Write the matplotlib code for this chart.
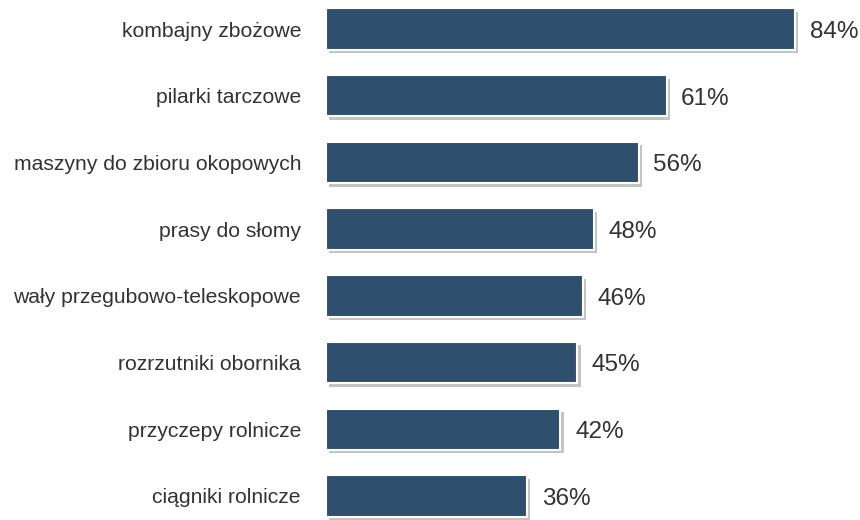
import matplotlib.pyplot as plt
import matplotlib.patheffects as pe

categories = ["kombajny zbożowe", "pilarki tarczowe", "maszyny do zbioru okopowych",
              "prasy do słomy", "wały przegubowo-teleskopowe", "rozrzutniki obornika",
              "przyczepy rolnicze", "ciągniki rolnicze"]
values = [84, 61, 56, 48, 46, 45, 42, 36]

plt.rcParams['font.family'] = ['Liberation Sans', 'DejaVu Sans']

fig = plt.figure(figsize=(8.6, 5.2), dpi=100)
ax = fig.add_axes([326 / 860, 0, 534 / 860, 1])

pos = list(range(len(categories)))
bars = ax.barh(pos, values, height=0.62, color='#2e4f6d', edgecolor='white',
               linewidth=1.5)
for b in bars:
    b.set_path_effects([pe.SimplePatchShadow(offset=(2.5, -2.5), shadow_rgbFace='#888888', alpha=0.5),
                        pe.Normal()])

for p, v in zip(pos, values):
    ax.annotate(f"{v}%", (v, p), xytext=(10.5, -2), textcoords='offset points',
                va='center', ha='left', fontsize=17.5, color='#333333')

ax.set_xlim(0, 534 / 5.583)
ax.set_ylim(7.36, -0.435)
ax.set_yticks(pos)
ax.set_yticklabels(categories, fontsize=15.2, color='#333333')
ax.tick_params(axis='y', length=0, pad=18)
ax.set_xticks([])
for s in ax.spines.values():
    s.set_visible(False)

fig.savefig("out.png")
